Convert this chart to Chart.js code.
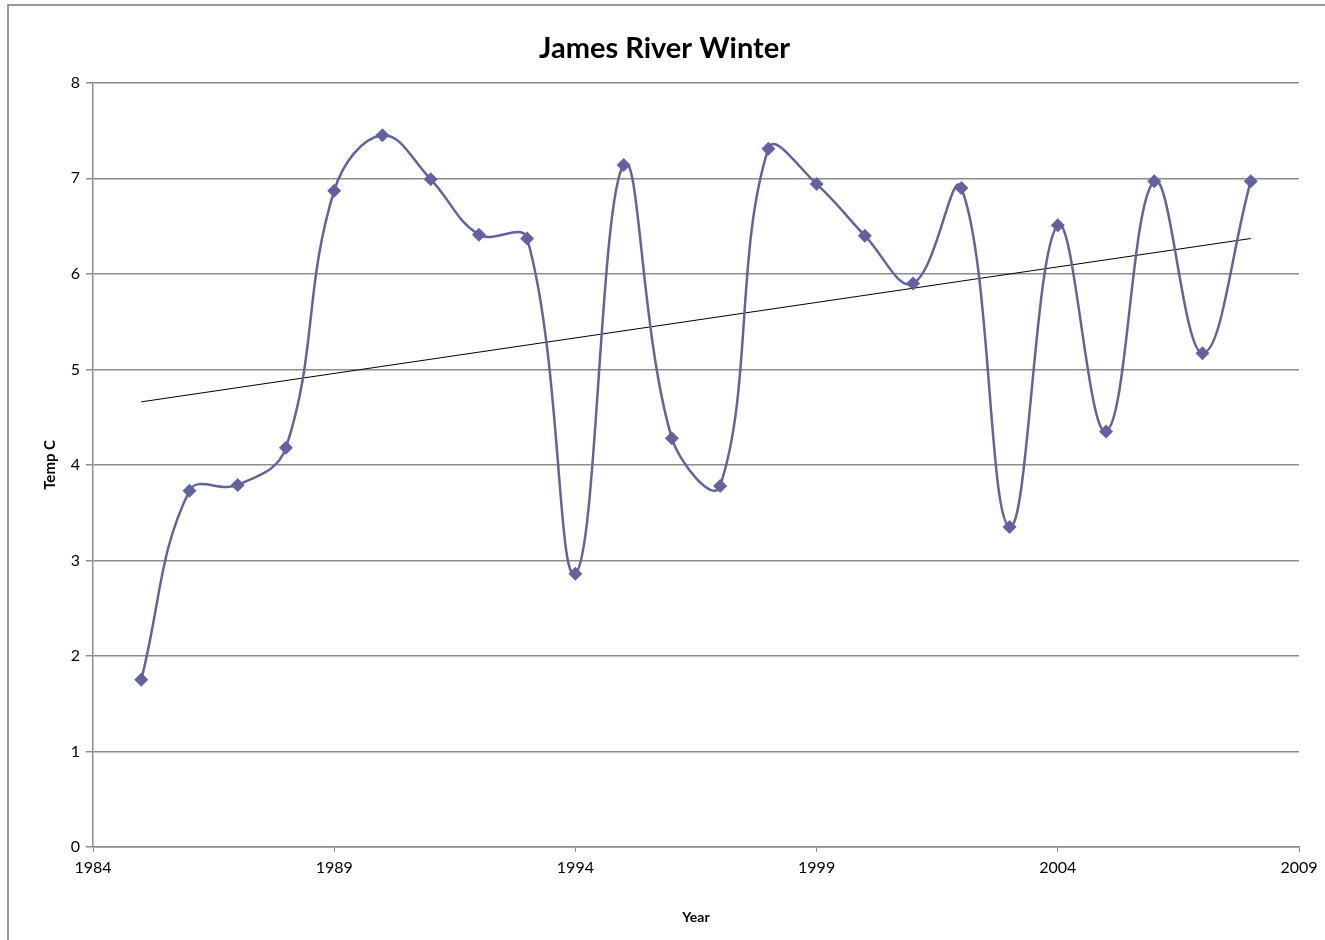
<!DOCTYPE html>
<html>
<head>
<meta charset="utf-8">
<title>James River Winter</title>
<script src="https://cdn.jsdelivr.net/npm/chart.js@4/dist/chart.umd.min.js"></script>
<style>
    html, body { margin: 0; padding: 0; background: #fff; overflow: hidden; }
    #wrap { position: relative; width: 1325px; height: 940px; }
    #frame {
        position: absolute; left: 7px; top: 4px; width: 1400px; height: 1000px;
        border-left: 2px solid #999; border-top: 2px solid #999;
        pointer-events: none;
    }
    canvas { position: absolute; left: 0; top: 0; }
</style>
</head>
<body>
<div id="wrap">
    <canvas id="chart" width="1325" height="940"></canvas>
    <div id="frame"></div>
</div>
<script>
// Winter water temperature by year
const years = [1985, 1986, 1987, 1988, 1989, 1990, 1991, 1992, 1993, 1994, 1995, 1996,
               1997, 1998, 1999, 2000, 2001, 2002, 2003, 2004, 2005, 2006, 2007, 2008];
const temps = [1.75, 3.73, 3.79, 4.18, 6.87, 7.45, 6.99, 6.41, 6.37, 2.86, 7.14, 4.28,
               3.78, 7.31, 6.94, 6.40, 5.90, 6.90, 3.35, 6.51, 4.35, 6.97, 5.17, 6.97];

// Linear trend end points
const trendYears = [1985, 2008];
const trendTemps = [4.66, 6.37];

const seriesColor = '#6262a0';
const gridColor = '#8c8c8c';
const fontFamily = 'Lato, "Open Sans", "Liberation Sans", sans-serif';

const points = years.map((y, i) => ({ x: y, y: temps[i] }));
const trend = trendYears.map((y, i) => ({ x: y, y: trendTemps[i] }));

new Chart(document.getElementById('chart'), {
    type: 'scatter',
    data: {
        datasets: [{
            label: 'Temp',
            data: points,
            showLine: true,
            tension: 0.4,
            borderColor: seriesColor,
            borderWidth: 2.5,
            backgroundColor: seriesColor,
            pointStyle: 'rectRot',
            pointRadius: 7,
            pointBorderWidth: 0
        }, {
            label: 'Trend',
            data: trend,
            showLine: true,
            tension: 0,
            borderColor: '#000',
            borderWidth: 1,
            pointRadius: 0
        }]
    },
    options: {
        responsive: false,
        animation: false,
        layout: { padding: { left: 30, right: 26, top: 0, bottom: 0 } },
        plugins: {
            legend: { display: false },
            tooltip: { enabled: false },
            title: {
                display: true,
                text: 'James River Winter',
                color: '#000',
                font: { family: fontFamily, size: 29, weight: 'bold' },
                padding: { top: 31, bottom: 17 }
            }
        },
        scales: {
            x: {
                type: 'linear',
                min: 1984,
                max: 2009,
                afterFit: scale => { scale.height = 93; },
                ticks: {
                    stepSize: 5,
                    color: '#000',
                    padding: 6,
                    font: { family: fontFamily, size: 16 },
                    callback: v => String(v)
                },
                grid: {
                    drawOnChartArea: false,
                    color: gridColor,
                    tickLength: 5
                },
                border: { color: gridColor, width: 1.5 },
                title: {
                    display: true,
                    text: 'Year',
                    color: '#000',
                    font: { family: fontFamily, size: 14, weight: 'bold' },
                    padding: { top: 4, bottom: 14 }
                }
            },
            y: {
                min: 0,
                max: 8,
                afterFit: scale => { scale.width = 63; },
                ticks: {
                    stepSize: 1,
                    color: '#000',
                    padding: 6,
                    font: { family: fontFamily, size: 16 }
                },
                grid: {
                    color: gridColor,
                    lineWidth: 1.5,
                    tickLength: 7
                },
                border: { color: gridColor, width: 1.5 },
                title: {
                    display: true,
                    text: 'Temp C',
                    color: '#000',
                    font: { family: fontFamily, size: 15, weight: 'bold' },
                    padding: { top: 11, bottom: 0 }
                }
            }
        }
    }
});
</script>
</body>
</html>
